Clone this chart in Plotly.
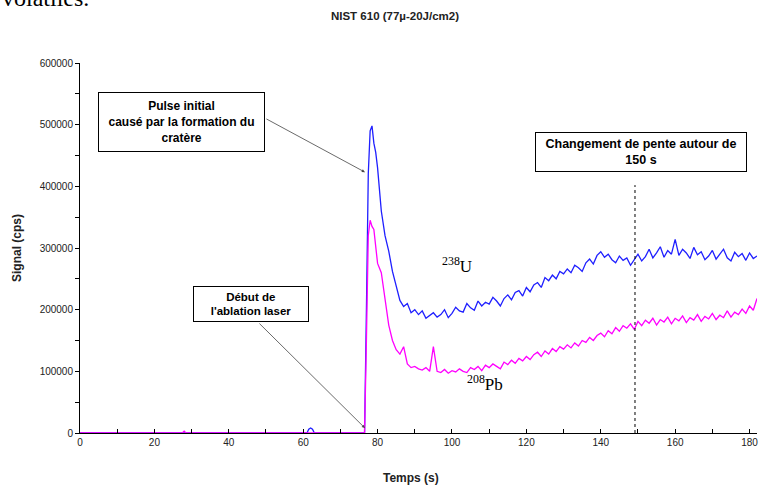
import plotly.graph_objects as go

# ---------------- data ----------------
t_head = [0, 20, 27.5, 28, 28.5, 40, 61, 61.5, 62, 62.5, 63, 70, 76, 76.5, 77, 77.5, 78, 78.5, 79, 79.5, 80]
t_tail = [81, 82, 83, 84, 85, 86, 87, 88, 89, 90, 91, 92, 93, 94, 95, 96, 97, 98, 99, 100,
          101, 102, 103, 104, 105, 106, 107, 108, 109, 110, 111, 112, 113, 114, 115, 116, 117, 118, 119, 120,
          121, 122, 123, 124, 125, 126, 127, 128, 129, 130, 131, 132, 133, 134, 135, 136, 137, 138, 139, 140,
          141, 142, 143, 144, 145, 146, 147, 148, 149, 150, 151, 152, 153, 154, 155, 156, 157, 158, 159, 160,
          161, 162, 163, 164, 165, 166, 167, 168, 169, 170, 171, 172, 173, 174, 175, 176, 177, 178, 179, 180,
          181, 182]
temps = t_head + t_tail

u238_head = [0, 0, 0, 0, 0, 0, 0, 6000, 8000, 6000, 0, 0, 0, 0, 200000, 420000, 490000, 498000, 470000, 455000, 430000]
u238_tail = [360000, 320000, 295000, 262000, 240000, 215000, 205000, 210000, 195000, 200000,
             192000, 198000, 186000, 190000, 195000, 188000, 192000, 200000, 187000, 194000,
             204000, 198000, 196000, 210000, 203000, 199000, 214000, 206000, 212000, 209000,
             220000, 214000, 206000, 218000, 224000, 216000, 228000, 231000, 222000, 236000,
             229000, 240000, 244000, 236000, 252000, 247000, 256000, 250000, 262000, 258000,
             266000, 260000, 272000, 268000, 262000, 276000, 282000, 274000, 288000, 294000,
             285000, 290000, 281000, 276000, 287000, 280000, 284000, 272000, 280000, 290000,
             279000, 286000, 298000, 284000, 292000, 302000, 285000, 296000, 290000, 314000,
             288000, 298000, 292000, 283000, 301000, 289000, 294000, 281000, 287000, 296000,
             282000, 290000, 298000, 284000, 279000, 293000, 286000, 291000, 280000, 292000,
             283000, 287000]
u238 = u238_head + u238_tail

pb208_head = [0, 0, 0, 3000, 0, 0, 0, 0, 0, 0, 0, 0, 0, 0, 150000, 320000, 345000, 335000, 330000, 300000, 275000]
pb208_tail = [260000, 220000, 175000, 150000, 135000, 128000, 140000, 112000, 106000, 108000,
              104000, 102000, 106000, 100000, 140000, 100000, 98000, 103000, 97000, 101000,
              99000, 104000, 100000, 98000, 106000, 103000, 108000, 101000, 110000, 106000,
              112000, 108000, 104000, 115000, 111000, 118000, 113000, 121000, 117000, 124000,
              119000, 127000, 131000, 124000, 133000, 128000, 137000, 132000, 140000, 136000,
              143000, 138000, 146000, 141000, 150000, 147000, 155000, 150000, 158000, 162000,
              156000, 166000, 161000, 171000, 165000, 174000, 170000, 177000, 168000, 181000,
              174000, 183000, 178000, 186000, 175000, 184000, 180000, 188000, 177000, 186000,
              182000, 190000, 179000, 187000, 183000, 192000, 181000, 189000, 185000, 194000,
              184000, 191000, 187000, 198000, 188000, 196000, 192000, 201000, 194000, 206000,
              199000, 218000]
pb208 = pb208_head + pb208_tail

x_ticks = [0, 20, 40, 60, 80, 100, 120, 140, 160, 180]
y_ticks = [0, 100000, 200000, 300000, 400000, 500000, 600000]
slope_change_t = 149.2

FONT = "Liberation Sans, Arial, sans-serif"

fig = go.Figure()
fig.add_trace(go.Scatter(x=temps, y=u238, mode="lines",
                         line=dict(color="#1f1fff", width=1.3), showlegend=False))
fig.add_trace(go.Scatter(x=temps, y=pb208, mode="lines",
                         line=dict(color="#ff00ff", width=1.3), showlegend=False))

# dashed vertical line
fig.add_shape(type="line", x0=slope_change_t, x1=slope_change_t, y0=0, y1=402000,
              xref="x", yref="y", line=dict(color="black", width=1, dash="3px,3px"))

# boxes
fig.add_annotation(x=27.2, y=504000, xref="x", yref="y", showarrow=False,
                   text="<b>Pulse initial<br>causé par la formation du<br>cratère</b>",
                   font=dict(family=FONT, size=12, color="black"),
                   bgcolor="white", bordercolor="black", borderwidth=1,
                   width=163, height=56, borderpad=1, align="center")
fig.add_annotation(x=46.0, y=209000, xref="x", yref="y", showarrow=False,
                   text="<b>Début de<br>l'ablation laser</b>",
                   font=dict(family=FONT, size=11.5, color="black"),
                   bgcolor="white", bordercolor="black", borderwidth=1,
                   width=112, height=32, borderpad=1, align="center")
fig.add_annotation(x=150.8, y=455700, xref="x", yref="y", showarrow=False,
                   text="<b>Changement de pente autour de<br>150 s</b>",
                   font=dict(family=FONT, size=12.5, color="black"),
                   bgcolor="white", bordercolor="black", borderwidth=1,
                   width=208, height=36, borderpad=1, align="center")

# arrows
fig.add_annotation(x=76.6, y=423000, xref="x", yref="y", text="", showarrow=True,
                   ax=-100, ay=-54, arrowhead=2, arrowsize=0.8, arrowwidth=0.8,
                   arrowcolor="#444")
fig.add_annotation(x=76.6, y=8000, xref="x", yref="y", text="", showarrow=True,
                   ax=-107, ay=-106, arrowhead=2, arrowsize=0.8, arrowwidth=0.8,
                   arrowcolor="#444")

# isotope labels
fig.add_annotation(x=101.3, y=272000, xref="x", yref="y", showarrow=False,
                   text="<sup>238</sup>U",
                   font=dict(family="Liberation Serif, Times New Roman, serif", size=17, color="black"))
fig.add_annotation(x=108.9, y=81000, xref="x", yref="y", showarrow=False,
                   text="<sup>208</sup>Pb",
                   font=dict(family="Liberation Serif, Times New Roman, serif", size=17, color="black"))

# axis titles
fig.add_annotation(x=-0.093, y=0.5, xref="paper", yref="paper", showarrow=False,
                   xanchor="center", yanchor="middle",
                   text="<b>Signal (cps)</b>", textangle=-90,
                   font=dict(family=FONT, size=12, color="#222"))
fig.add_annotation(x=0.489, y=-0.122, xref="paper", yref="paper", showarrow=False,
                   xanchor="center", yanchor="middle",
                   text="<b>Temps (s)</b>",
                   font=dict(family=FONT, size=12, color="#222"))

# cropped text from the document above the chart
fig.add_annotation(x=-0.118, y=1.175, xref="paper", yref="paper", showarrow=False,
                   xanchor="left", yanchor="middle", text="volatiles.",
                   font=dict(family="Liberation Serif, Times New Roman, serif", size=24, color="black"))

fig.update_layout(
    width=761, height=488,
    margin=dict(l=80, r=4, t=63, b=55),
    paper_bgcolor="white", plot_bgcolor="white",
    title=dict(text="<b>NIST 610 (77µ-20J/cm2)</b>", x=395 / 761, xref="container",
               xanchor="center", y=1 - 16 / 488, yref="container", yanchor="middle",
               font=dict(family=FONT, size=11.5, color="#222")),
    font=dict(family=FONT, size=10, color="#222"),
)
fig.update_xaxes(range=[0, 182], showgrid=False, zeroline=False,
                 showline=True, linecolor="black", linewidth=1,
                 tickvals=x_ticks, ticktext=[str(v) for v in x_ticks],
                 ticks="inside", ticklen=4, tickcolor="black",
                 minor=dict(ticks="inside", dtick=10, tick0=0, ticklen=4, tickcolor="black"),
                 tickfont=dict(family=FONT, size=10, color="#222"))
fig.update_yaxes(range=[0, 600000], showgrid=False, zeroline=False,
                 showline=True, linecolor="black", linewidth=1,
                 tickvals=y_ticks, ticktext=[str(v) for v in y_ticks],
                 ticks="outside", ticklen=4, tickcolor="black",
                 minor=dict(ticks="outside", dtick=50000, tick0=0, ticklen=4, tickcolor="black"),
                 tickfont=dict(family=FONT, size=10, color="#222"))

fig.write_html("out.html", config={"displayModeBar": False},
               post_script="document.body.style.margin='0';")
